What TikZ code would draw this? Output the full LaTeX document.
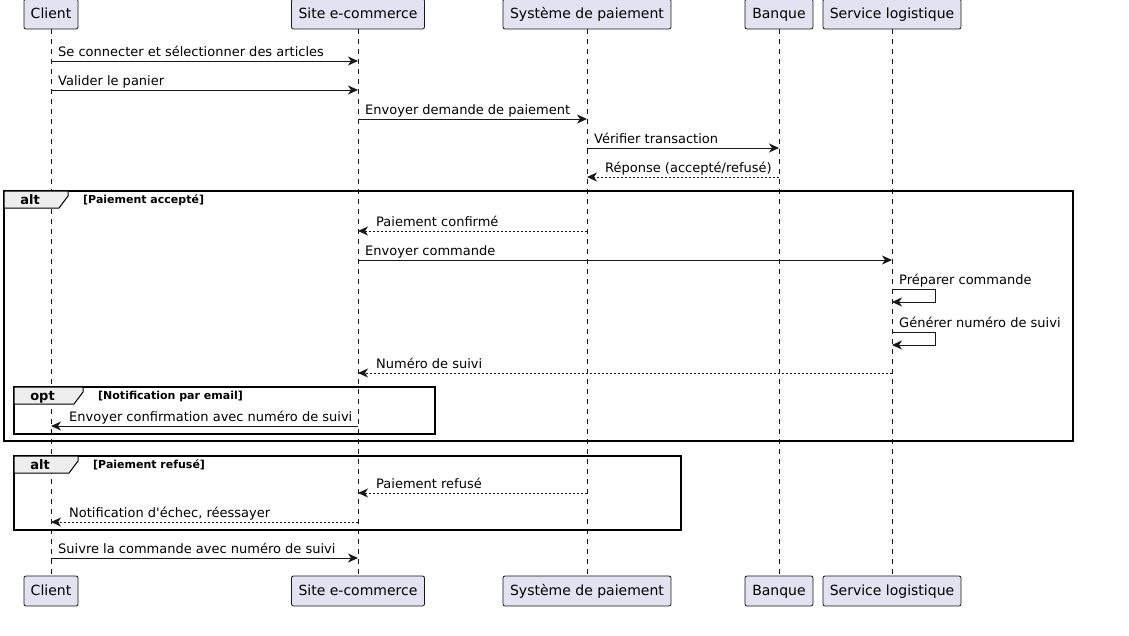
\documentclass[tikz,border=0pt]{standalone}
\usepackage{fontspec}
\setmainfont{DejaVu Sans}
\usepackage{tikz}
\usetikzlibrary{positioning, arrows.meta, calc}

\definecolor{partfill}{HTML}{E2E2F0}
\definecolor{partline}{HTML}{181818}
\definecolor{tabfill}{HTML}{EEEEEE}

\tikzset{
    part/.style={draw=partline, fill=partfill, rounded corners=2pt, line width=0.8pt,
        minimum height=30pt, inner sep=0pt, text height=11pt, text depth=2pt,
        font=\fontsize{14}{16}\selectfont},
    life/.style={partline, line width=0.6pt, dash pattern=on 5pt off 5pt},
    msg/.style={partline, line width=1pt, -{Stealth[length=10pt, width=9pt, inset=3pt]}},
    reply/.style={msg, dash pattern=on 2pt off 2pt},
    lbl/.style={font=\fontsize{13}{15}\selectfont, inner sep=0pt, anchor=base west},
    frame/.style={draw=black, line width=1.5pt},
    tab/.style={draw=black, fill=tabfill, line width=1pt},
    kw/.style={font=\bfseries\fontsize{13}{15}\selectfont, inner sep=0pt, anchor=base},
    cond/.style={font=\bfseries\fontsize{11}{13}\selectfont, inner sep=0pt, anchor=base west}
}

\begin{document}
\begin{tikzpicture}[x=1pt, y=-1pt]
    \useasboundingbox (0,0) rectangle (1129,635);

    % participants, top and bottom, with lifelines
    \foreach \nm/\x/\w/\txt in {
        client/51/54/Client,
        site/358/133/Site e-commerce,
        pay/587/168/Système de paiement,
        bank/779/68/Banque,
        logi/892/138/Service logistique}
    {
        \node[part, minimum width=\w pt] (\nm) at (\x,14) {\txt};
        \node[part, minimum width=\w pt] (\nm-b) at (\x,591) {\txt};
        \draw[life] (\nm) -- (\nm-b);
    }

    % combined fragments
    \foreach \xa/\ya/\xb/\yb/\tw/\kw/\cond in {
        4/191/1073/441/64/alt/Paiement accepté,
        14/387/435/434/69/opt/Notification par email,
        14/456/681/530/64/alt/Paiement refusé}
    {
        \draw[frame] (\xa,\ya) rectangle (\xb,\yb);
        \draw[tab] (\xa,\ya) -- ++(\tw,0) -- ++(0,5) -- ++(-9,12) -- (\xa,\ya+17) -- cycle;
        \node[kw] (kw-\ya) at (\xa+\tw/2-6,\ya+13) {\kw};
        \node[cond] (cond-\ya) at (\xa+\tw+15,\ya+12) {[\cond]};
    }

    % messages going right
    \foreach \a/\b/\y/\st/\txt in {
        client/site/61/msg/Se connecter et sélectionner des articles,
        client/site/90/msg/Valider le panier,
        site/pay/119/msg/Envoyer demande de paiement,
        pay/bank/148/msg/Vérifier transaction,
        site/logi/260/msg/Envoyer commande,
        client/site/558/msg/Suivre la commande avec numéro de suivi}
    {
        \draw[\st] (\a |- 0,\y) -- (\b |- 0,\y);
        \path (\a |- 0,\y) ++(7,-4.5) node[lbl] (m\y) {\txt};
    }

    % messages going left
    \foreach \a/\b/\y/\st/\txt in {
        bank/pay/177/reply/{Réponse (accepté/refusé)},
        pay/site/231/reply/Paiement confirmé,
        logi/site/373/reply/Numéro de suivi,
        site/client/426/msg/Envoyer confirmation avec numéro de suivi,
        pay/site/493/reply/Paiement refusé,
        site/client/522/reply/{Notification d\textquotesingle échec, réessayer}}
    {
        \draw[\st] (\a |- 0,\y) -- (\b |- 0,\y);
        \path (\b |- 0,\y) ++(18,-4.5) node[lbl] (m\y) {\txt};
    }

    % self messages
    \foreach \y/\txt in {
        289/Préparer commande,
        332/Générer numéro de suivi}
    {
        \draw[msg] (logi |- 0,\y) -- ++(43,0) -- ++(0,13) -- (logi |- 0,\y+13);
        \path (logi |- 0,\y) ++(7,-4.5) node[lbl] (m\y) {\txt};
    }
\end{tikzpicture}
\end{document}
